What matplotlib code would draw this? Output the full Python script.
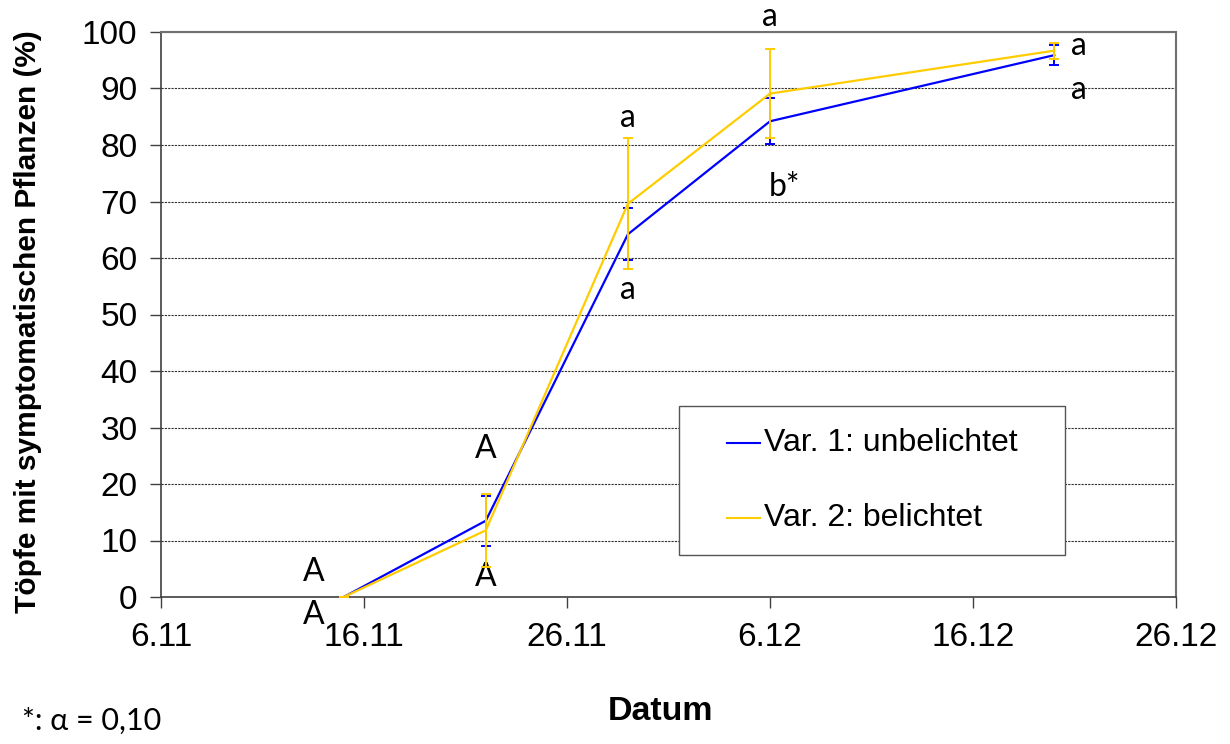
import matplotlib
matplotlib.use("Agg")
import matplotlib.pyplot as plt
import matplotlib.dates as mdates
from matplotlib.ticker import FuncFormatter
from matplotlib.lines import Line2D
from matplotlib.patches import Rectangle
from datetime import datetime

YEAR = 2008
dates = ["15.11", "22.11", "29.11", "6.12", "20.12"]
var1 = [0.0, 13.5, 64.2, 84.2, 95.9]
var1_err = [0.0, 4.4, 4.6, 4.1, 1.8]
var2 = [0.0, 11.8, 69.6, 89.1, 96.7]
var2_err = [0.0, 6.5, 11.6, 7.9, 1.4]
x_ticks = ["6.11", "16.11", "26.11", "6.12", "16.12", "26.12"]
series_names = ["Var. 1: unbelichtet", "Var. 2: belichtet"]

# significance letters: (date, y, text)
letters = [
    ("13.5.11", 4.4, "A"), ("13.5.11", -3.2, "A"),
    ("22.11", 26.2, "A"), ("22.11", 3.5, "A"),
    ("29.11", 84.8, "a"), ("29.11", 54.3, "a"),
    ("6.12", 102.6, "a"), ("6.7.12", 72.6, "b*"),
    ("21.2.12", 97.6, "a"), ("21.2.12", 89.8, "a"),
]


def to_date(s):
    parts = s.split(".")
    if len(parts) == 3:  # day.fraction.month
        d = datetime(YEAR, int(parts[2]), int(parts[0]))
        return mdates.date2num(d) + float("0." + parts[1])
    d, m = parts
    return mdates.date2num(datetime(YEAR, int(m), int(d)))


x = [to_date(s) for s in dates]
xt = [to_date(s) for s in x_ticks]

W, H = 1230, 744
fig = plt.figure(figsize=(W / 100, H / 100), dpi=100)
ax = fig.add_axes([161 / W, 1 - 597 / H, (1176 - 161) / W, (597 - 32) / H])

blue = "#0000FF"
yellow = "#FFCC00"
ax.errorbar(x, var1, yerr=var1_err, color=blue, lw=1.6, capsize=3.5,
            elinewidth=1.4, capthick=1.4, zorder=3)
ax.errorbar(x, var2, yerr=var2_err, color=yellow, lw=1.6, capsize=3.5,
            elinewidth=1.4, capthick=1.4, zorder=4)

ax.set_xlim(xt[0], xt[-1])
ax.set_ylim(0, 100)
ax.set_xticks(xt)
ax.xaxis.set_major_formatter(FuncFormatter(
    lambda v, p: f"{mdates.num2date(v).day}.{mdates.num2date(v).month}"))
ax.set_yticks(range(0, 101, 10))

ax.yaxis.grid(True, linestyle=(0, (2, 1)), color="#303030", lw=0.8)
ax.set_axisbelow(True)

arial = ["Liberation Sans", "DejaVu Sans"]
calibri = ["Lato", "DejaVu Sans"]
for lab in ax.get_xticklabels() + ax.get_yticklabels():
    lab.set_fontfamily(arial)
    lab.set_fontsize(24)
ax.tick_params(axis="x", direction="out", length=8, width=1, color="#404040", pad=10)
ax.tick_params(axis="y", direction="out", length=8, width=1, color="#404040", pad=9)

for side in ["top", "right"]:
    ax.spines[side].set_color("#707070")
    ax.spines[side].set_linewidth(1.5)
for side in ["left", "bottom"]:
    ax.spines[side].set_color("#404040")
    ax.spines[side].set_linewidth(1.2)

for dx, yv, t in letters:
    ax.text(to_date(dx), yv, t, ha="center", va="center", fontsize=23,
            family=calibri, clip_on=False)

fig.text(28 / W, 1 - 322 / H, "Töpfe mit symptomatischen Pflanzen (%)", rotation=90,
         ha="center", va="center", fontsize=21.5, fontweight="bold", family=arial)
fig.text(660 / W, 1 - 711 / H, "Datum", ha="center", va="center",
         fontsize=24.5, fontweight="bold", family=arial)
fig.text(22 / W, 1 - 721 / H, "*: α = 0,10", ha="left", va="center",
         fontsize=22, family=calibri)

# legend box drawn manually
fig.patches.append(Rectangle((679 / W, 1 - 555 / H), (1065 - 679) / W, (555 - 406) / H,
                             transform=fig.transFigure, facecolor="white",
                             edgecolor="#555555", lw=1.0, zorder=5))
for i, (name, col) in enumerate(zip(series_names, [blue, yellow])):
    yy = 1 - (443 + 75 * i) / H
    fig.add_artist(Line2D([727 / W, 760 / W], [yy, yy], color=col, lw=1.5,
                          transform=fig.transFigure, zorder=6))
    fig.text(764 / W, yy, name, ha="left", va="center", fontsize=23,
             family=arial, zorder=6)

fig.savefig("out.png", dpi=100)
